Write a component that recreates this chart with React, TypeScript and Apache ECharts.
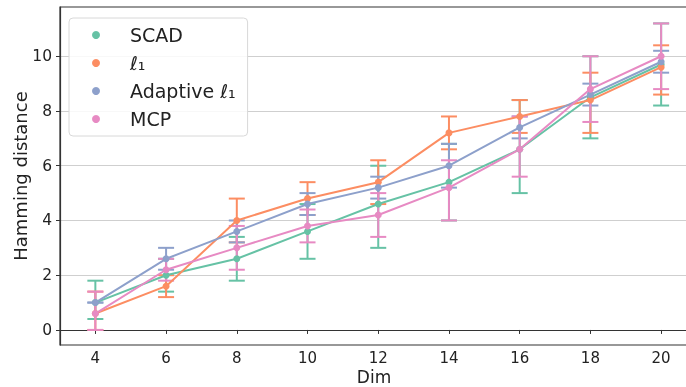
import React, { useEffect, useRef } from "react";
import * as echarts from "echarts";

const dims = [4, 6, 8, 10, 12, 14, 16, 18, 20];
const xTicks = [4, 6, 8, 10, 12, 14, 16, 18, 20];
const yTicks = [0, 2, 4, 6, 8, 10];

const scadMean = [1.0, 2.0, 2.6, 3.6, 4.6, 5.4, 6.6, 8.5, 9.7];
const scadLow = [0.4, 1.4, 1.8, 2.6, 3.0, 4.0, 5.0, 7.0, 8.2];
const scadHigh = [1.8, 2.6, 3.4, 4.6, 6.0, 6.8, 8.4, 10.0, 11.2];

const l1Mean = [0.6, 1.6, 4.0, 4.8, 5.4, 7.2, 7.8, 8.4, 9.6];
const l1Low = [0.0, 1.2, 3.2, 4.2, 4.6, 6.6, 7.2, 7.2, 8.6];
const l1High = [1.4, 2.0, 4.8, 5.4, 6.2, 7.8, 8.4, 9.4, 10.4];

const adaMean = [1.0, 2.6, 3.6, 4.6, 5.2, 6.0, 7.4, 8.6, 9.8];
const adaLow = [1.0, 2.2, 3.2, 4.2, 4.8, 5.2, 7.0, 8.2, 9.4];
const adaHigh = [1.0, 3.0, 4.0, 5.0, 5.6, 6.8, 7.8, 9.0, 10.2];

const mcpMean = [0.6, 2.2, 3.0, 3.8, 4.2, 5.2, 6.6, 8.8, 10.0];
const mcpLow = [0.0, 1.8, 2.2, 3.2, 3.4, 4.0, 5.6, 7.6, 8.8];
const mcpHigh = [1.4, 2.6, 3.8, 4.4, 5.0, 6.2, 7.8, 10.0, 11.2];

const names = ["SCAD", "ℓ₁", "Adaptive ℓ₁", "MCP"];
const colors = ["#66c2a5", "#fc8d62", "#8da0cb", "#e78ac3"];

const FONT = "DejaVu Sans";

function errSeries(name: string, color: string, low: number[], high: number[]) {
  return {
    type: "custom",
    name: name + " err",
    data: dims.map((d, i) => [d, low[i], high[i]]),
    encode: { x: 0, y: [1, 2] },
    silent: true,
    renderItem: (params: any, api: any) => {
      const x = api.value(0);
      const pHi = api.coord([x, api.value(2)]);
      const pLo = api.coord([x, api.value(1)]);
      const hw = 8;
      const st = { stroke: color, lineWidth: 2 };
      return {
        type: "group",
        children: [
          { type: "line", shape: { x1: pHi[0], y1: pHi[1], x2: pLo[0], y2: pLo[1] }, style: st },
          { type: "line", shape: { x1: pHi[0] - hw, y1: pHi[1], x2: pHi[0] + hw, y2: pHi[1] }, style: st },
          { type: "line", shape: { x1: pLo[0] - hw, y1: pLo[1], x2: pLo[0] + hw, y2: pLo[1] }, style: st },
        ],
      };
    },
  };
}

function lineSeries(name: string, color: string, mean: number[]) {
  return {
    type: "line",
    name,
    data: dims.map((d, i) => [d, mean[i]]),
    symbol: "circle",
    symbolSize: 7,
    showSymbol: true,
    lineStyle: { color, width: 2 },
    itemStyle: { color },
    silent: true,
  };
}

export default function App() {
  const ref = useRef<HTMLDivElement>(null);
  useEffect(() => {
    if (!ref.current) return;
    const chart = echarts.init(ref.current, null, { renderer: "svg" });
    const means = [scadMean, l1Mean, adaMean, mcpMean];
    const lows = [scadLow, l1Low, adaLow, mcpLow];
    const highs = [scadHigh, l1High, adaHigh, mcpHigh];
    const series: any[] = [];
    names.forEach((n, k) => {
      series.push(errSeries(n, colors[k], lows[k], highs[k]));
      series.push(lineSeries(n, colors[k], means[k]));
    });
    chart.setOption({
      animation: false,
      textStyle: { fontFamily: FONT },
      grid: {
        left: 60,
        top: 7,
        bottom: 42,
        right: -2,
        outerBoundsMode: "none",
        containLabel: false,
        show: true,
        borderColor: "#333333",
        borderWidth: 1.2,
        backgroundColor: "transparent",
      },
      legend: {
        data: names,
        orient: "vertical",
        left: 69,
        top: 18,
        icon: "circle",
        itemWidth: 8,
        itemHeight: 8,
        itemGap: 0,
        padding: [3, 12, 3, 23],
        backgroundColor: "rgba(255,255,255,0.85)",
        borderColor: "#d8d8d8",
        borderWidth: 1,
        borderRadius: 4,
        textStyle: {
          fontFamily: FONT,
          fontSize: 19,
          color: "#222222",
          lineHeight: 28,
          padding: [0, 0, 0, 25],
        },
      },
      xAxis: {
        type: "value",
        min: 3,
        max: 20.76,
        name: "Dim",
        nameLocation: "middle",
        nameMoveOverlap: false,
        nameGap: 23,
        nameTextStyle: { fontFamily: FONT, fontSize: 17, color: "#222222", lineHeight: 17 },
        axisLine: { show: true, lineStyle: { color: "#333333", width: 1.2 } },
        axisTick: { show: true, length: 4, customValues: xTicks, lineStyle: { color: "#333333" } },
        axisLabel: {
          customValues: xTicks,
          fontFamily: FONT,
          fontSize: 15,
          lineHeight: 15,
          color: "#222222",
          margin: 5,
        },
        splitLine: { show: false },
      },
      yAxis: {
        type: "value",
        min: -0.55,
        max: 11.8,
        name: "Hamming distance",
        nameLocation: "middle",
        nameMoveOverlap: false,
        nameRotate: 90,
        nameGap: 31,
        nameTextStyle: { fontFamily: FONT, fontSize: 18, color: "#222222", lineHeight: 18 },
        axisLine: { show: true, lineStyle: { color: "#333333", width: 1.2 } },
        axisTick: { show: true, length: 4, customValues: yTicks, lineStyle: { color: "#333333" } },
        axisLabel: { customValues: yTicks, fontFamily: FONT, fontSize: 15.5, color: "#222222", margin: 8 },
        splitLine: { show: true, lineStyle: { color: "#cfcfcf", width: 1 } },
      },
      series,
    });
    return () => chart.dispose();
  }, []);
  return (
    <div
      ref={ref}
      style={{ position: "fixed", left: 0, top: 0, width: 686, height: 387 }}
    />
  );
}
